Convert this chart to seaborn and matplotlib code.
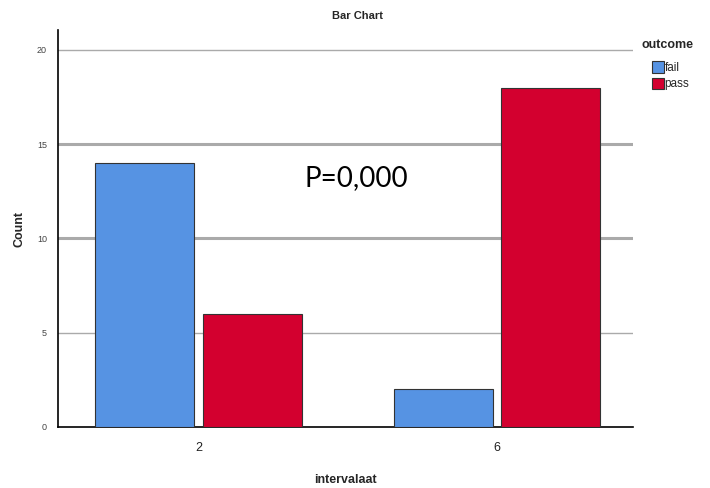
import pandas as pd
import matplotlib
matplotlib.use("Agg")
import matplotlib.pyplot as plt
import seaborn as sns

# data
intervals = ["2", "6"]
fail_counts = [14, 2]
pass_counts = [6, 18]
outcomes = ["fail", "pass"]

df = pd.DataFrame({
    "intervalaat": intervals * 2,
    "outcome": ["fail"] * len(intervals) + ["pass"] * len(intervals),
    "Count": fail_counts + pass_counts,
})

sns.set_theme(style="white")
plt.rcParams["font.family"] = ["Liberation Sans", "DejaVu Sans"]

fig = plt.figure(figsize=(7.1, 4.88), dpi=100)
ax = fig.add_axes([0.0817, 0.125, 0.81, 0.8135])

palette = {"fail": "#5693E3", "pass": "#D3002F"}
sns.barplot(data=df, x="intervalaat", y="Count", hue="outcome", hue_order=outcomes,
            palette=palette, width=0.72, gap=0.08, edgecolor="#333333", linewidth=0.8,
            saturation=1, ax=ax, zorder=3)

ax.set_xlim(-0.47, 1.455)
ax.set_ylim(0, 21.06)
ax.set_yticks([0, 5, 10, 15, 20])
for val, lw in [(5, 1.0), (10, 2.2), (15, 2.2), (20, 1.0)]:
    ax.axhline(val, color="#AAAAAA", linewidth=lw, zorder=1)

for s in ["top", "right"]:
    ax.spines[s].set_visible(False)
for s in ["left", "bottom"]:
    ax.spines[s].set_color("black")
    ax.spines[s].set_linewidth(1.2)
ax.tick_params(axis="y", length=0, labelsize=6.5, labelcolor="#444444", pad=8)
ax.tick_params(axis="x", length=0, labelsize=9, labelcolor="#222222", pad=11)

ax.set_ylabel("Count", fontsize=9, fontweight="bold", labelpad=8)
ax.set_xlabel("intervalaat", fontsize=9, fontweight="bold", labelpad=14)
fig.text(0.503, 0.968, "Bar Chart", ha="center", va="center", fontsize=8, fontweight="bold")

ax.text(0.53, 13.2, "P=0,000", ha="center", va="center", fontsize=20, color="black",
        family=["Lato", "DejaVu Sans"], zorder=5)

# legend: title on its own, entries indented below it
fig.text(0.904, 0.908, "outcome", ha="left", va="center", fontsize=9, fontweight="bold")
leg = ax.legend(loc="upper left", bbox_to_anchor=(0.918, 0.874),
                bbox_transform=fig.transFigure, frameon=False, fontsize=8.5,
                handlelength=1.0, handleheight=1.1,
                handletextpad=0.1, labelspacing=0.3, borderaxespad=0, borderpad=0)

fig.savefig("out.png", dpi=100)
